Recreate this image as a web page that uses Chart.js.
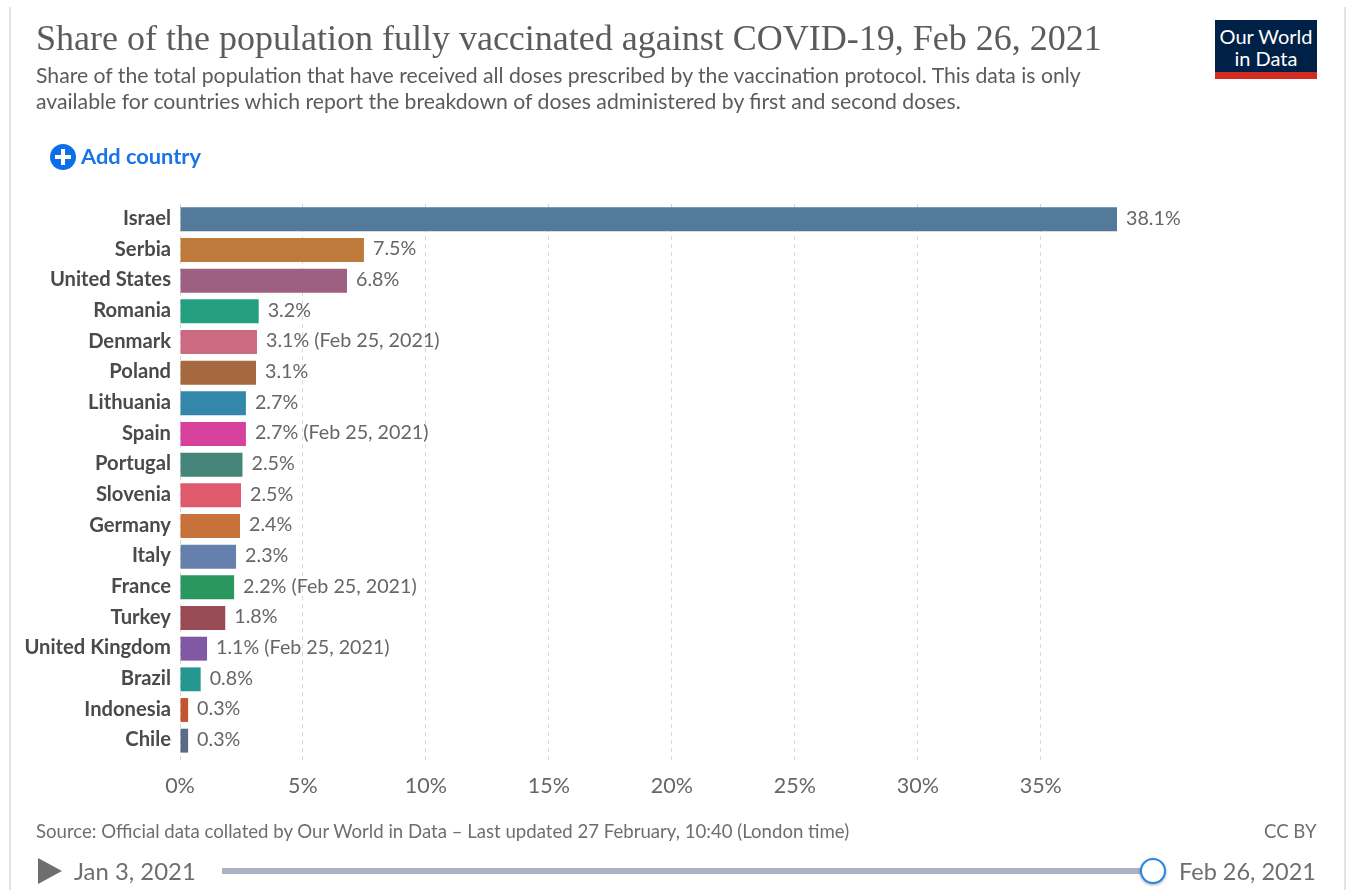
<!DOCTYPE html>
<html>
<head>
<meta charset="utf-8">
<title>Share of the population fully vaccinated against COVID-19</title>
<script src="https://cdn.jsdelivr.net/npm/chart.js@4/dist/chart.umd.min.js"></script>
<style>
    html, body { margin: 0; padding: 0; background: #fff; }
    body { width: 1346px; height: 890px; position: relative; overflow: hidden; font-family: Lato, sans-serif; }
    #chart { position: absolute; left: 0; top: 0; }
    .txt { position: absolute; white-space: nowrap; }
    #frameL, #frameR { position: absolute; top: 7px; bottom: 0; width: 2px; background: #e4e4e4; }
    #frameL { left: 9px; }
    #frameR { left: 1344px; }
    #title { left: 36px; top: 15px; font-family: "Liberation Serif", serif; font-size: 36px; line-height: 46px; color: #5b5b5b; }
    .sub { left: 36px; font-size: 21.2px; line-height: 26px; color: #5b5b5b; }
    #logo { position: absolute; left: 1215px; top: 20px; width: 102px; height: 59px; background: #002147; border-bottom: 7px solid #d42b21; box-sizing: border-box; color: #fff; text-align: center; font-size: 20px; line-height: 22px; padding-top: 5px; }
    #addIcon { position: absolute; left: 50px; top: 144px; width: 26px; height: 26px; border-radius: 50%; background: #0d6fe8; }
    #addIcon:before { content: ""; position: absolute; left: 5px; top: 11px; width: 16px; height: 4px; background: #fff; }
    #addIcon:after { content: ""; position: absolute; left: 11px; top: 5px; width: 4px; height: 16px; background: #fff; }
    #add { left: 81px; top: 143px; font-size: 21.8px; line-height: 26px; color: #1a73e8; font-weight: 700; }
    #source { left: 36px; top: 821px; font-size: 18.6px; line-height: 20px; color: #6e6e6e; }
    #ccby { left: 1264px; top: 821px; font-size: 18.6px; line-height: 20px; color: #6e6e6e; }
    #play { position: absolute; left: 38px; top: 858px; width: 24px; height: 26px; background: #6e6e6e; clip-path: polygon(0 0, 100% 50%, 0 100%); }
    #start { left: 74px; top: 858px; font-size: 23.9px; line-height: 26px; color: #6e6e6e; }
    #end { left: 1179px; top: 858px; font-size: 23.5px; line-height: 26px; color: #6e6e6e; }
    #track { position: absolute; left: 222px; top: 868px; width: 931px; height: 6px; background: #a9b3c4; }
    #knob { position: absolute; left: 1140px; top: 858px; width: 26px; height: 26px; box-sizing: border-box; border-radius: 50%; border: 2.5px solid #2a85e0; background: #fff; box-shadow: 0 1px 3px rgba(0,0,0,.35); }
</style>
</head>
<body>
<canvas id="chart" width="1346" height="890"></canvas>
<div id="frameL"></div>
<div id="frameR"></div>
<div class="txt" id="title">Share of the population fully vaccinated against COVID-19, Feb 26, 2021</div>
<div class="txt sub" style="top:62px">Share of the total population that have received all doses prescribed by the vaccination protocol. This data is only</div>
<div class="txt sub" style="top:88px">available for countries which report the breakdown of doses administered by first and second doses.</div>
<div id="logo">Our World<br>in Data</div>
<div id="addIcon"></div>
<div class="txt" id="add">Add country</div>
<div class="txt" id="source">Source: Official data collated by Our World in Data – Last updated 27 February, 10:40 (London time)</div>
<div class="txt" id="ccby">CC BY</div>
<div id="play"></div>
<div class="txt" id="start">Jan 3, 2021</div>
<div id="track"></div>
<div id="knob"></div>
<div class="txt" id="end">Feb 26, 2021</div>

<script>
// Values
const countries = ['Israel', 'Serbia', 'United States', 'Romania', 'Denmark', 'Poland', 'Lithuania', 'Spain', 'Portugal',
    'Slovenia', 'Germany', 'Italy', 'France', 'Turkey', 'United Kingdom', 'Brazil', 'Indonesia', 'Chile'];
const shares = [38.1, 7.48, 6.79, 3.2, 3.13, 3.09, 2.68, 2.68, 2.54, 2.48, 2.44, 2.28, 2.2, 1.84, 1.1, 0.84, 0.33, 0.33];
const dateNotes = ['', '', '', '', '(Feb 25, 2021)', '', '', '(Feb 25, 2021)', '', '', '', '', '(Feb 25, 2021)', '', '(Feb 25, 2021)', '', '', ''];
const barColors = ['#537a9b', '#bd7a3a', '#9d5f82', '#249f7f', '#cb6a80', '#a5683f', '#3287aa', '#d6429b', '#46857a',
    '#df5a6c', '#c9713a', '#6680ad', '#2a975f', '#984b55', '#8158a3', '#26978f', '#c2552f', '#5a6b85'];
const xMax = 38.1;
const xStep = 5;

// value label at the end of each bar
const valueLabels = {
    id: 'valueLabels',
    afterDatasetsDraw(chart) {
        const ctx = chart.ctx;
        const bars = chart.getDatasetMeta(0).data;
        ctx.save();
        ctx.font = '19.7px Lato';
        ctx.fillStyle = '#666';
        ctx.textBaseline = 'middle';
        bars.forEach((bar, i) => {
            const note = dateNotes[i] ? ' ' + dateNotes[i] : '';
            ctx.fillText(shares[i].toFixed(1) + '%' + note, bar.x + 9, bar.y - 1);
        });
        ctx.restore();
    }
};

new Chart(document.getElementById('chart'), {
    type: 'bar',
    data: {
        labels: countries,
        datasets: [{
            data: shares,
            backgroundColor: barColors,
            barPercentage: 0.78,
            categoryPercentage: 1
        }]
    },
    options: {
        indexAxis: 'y',
        responsive: false,
        animation: false,
        layout: { padding: { left: 0, right: 229, top: 204, bottom: 0 } },
        plugins: { legend: { display: false }, tooltip: { enabled: false } },
        scales: {
            x: {
                min: 0,
                max: xMax,
                afterFit: (scale) => { scale.height = 134; },
                border: { display: false, dash: [4, 4] },
                grid: {
                    color: '#d8d8d8',
                    tickColor: '#d8d8d8',
                    tickBorderDash: [4, 4],
                    tickLength: 5
                },
                ticks: {
                    stepSize: xStep,
                    includeBounds: false,
                    maxRotation: 0,
                    padding: 12,
                    color: '#666',
                    font: { family: 'Lato', size: 21.5 },
                    callback: (val) => val + '%'
                }
            },
            y: {
                afterFit: (scale) => { scale.width = 180; },
                border: { display: false },
                grid: { display: false },
                ticks: {
                    padding: 1,
                    labelOffset: -1,
                    autoSkip: false,
                    color: '#4a4a4a',
                    font: { family: 'Lato', size: 20.2, weight: 'bold' }
                }
            }
        }
    },
    plugins: [valueLabels]
});
</script>
</body>
</html>
